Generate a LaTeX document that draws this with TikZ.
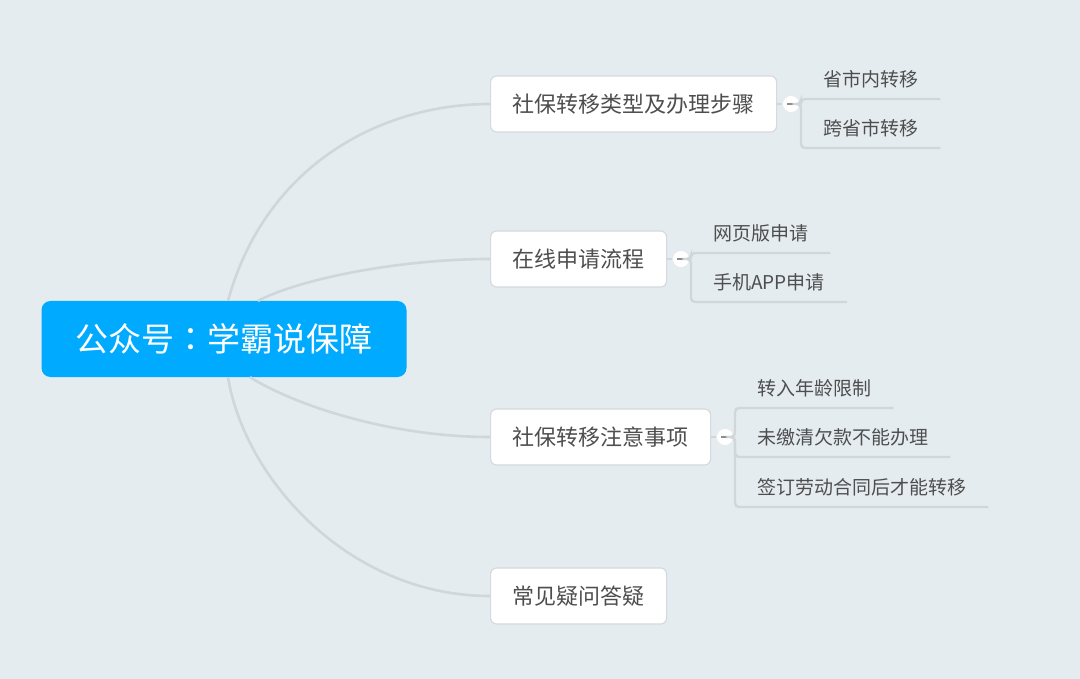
\documentclass[tikz,border=0pt]{standalone}
\usepackage{fontspec}
\setmainfont{Noto Sans CJK SC}
\newfontfamily\tcfont{Noto Sans CJK TC}
\usetikzlibrary{positioning}
\definecolor{bgcol}{RGB}{229,236,240}
\definecolor{rootblue}{RGB}{0,170,255}
\definecolor{boxline}{RGB}{212,218,222}
\definecolor{linegray}{RGB}{208,214,218}
\definecolor{textgray}{RGB}{78,78,78}
\definecolor{dashgray}{RGB}{140,140,140}

\begin{document}
\begin{tikzpicture}[
  x=1pt, y=-1pt,
  node distance=5pt,
  root/.style={fill=rootblue, rounded corners=9pt, text=white,
               font=\fontsize{33}{40}\selectfont, inner xsep=34pt,
               minimum height=76pt},
  topic/.style={draw=boxline, line width=1.2pt, fill=white, rounded corners=6pt,
                text=textgray, font=\fontsize{22}{26}\selectfont,
                inner xsep=22pt, minimum height=56pt, anchor=west},
  fold/.style={circle, fill=white, draw=boxline!60, line width=0.6pt,
               minimum size=17pt, inner sep=0pt,
               path picture={\draw[dashgray, line width=2.6pt]
                 ([xshift=-3.8pt]path picture bounding box.center) --
                 ([xshift=3.8pt]path picture bounding box.center);}},
  leaf/.style={anchor=south west, text=textgray, font=\fontsize{19}{23}\selectfont,
               inner xsep=22pt, inner ysep=0pt, text height=14pt, text depth=12pt},
  link/.style={draw=linegray, line width=2.6pt},
  stem/.style={draw=linegray, line width=2.4pt, rounded corners=4pt}
]
\path[use as bounding box, fill=bgcol] (0,0) rectangle (1080,679);

\node[root] (root) at (224,339) {公众号{\tcfont ：}学霸说保障};

\node[topic] (t1) at (490,104) {社保转移类型及办理步骤};
\node[topic] (t2) at (490,259) {在线申请流程};
\node[topic] (t3) at (490,437) {社保转移注意事项};
\node[topic] (t4) at (490,596) {常见疑问答疑};

\node[fold, right=of t1] (f1) {};
\node[fold, right=of t2] (f2) {};
\node[fold, right=of t3] (f3) {};

\node[leaf] (l11) at (801,99) {省市内转移};
\node[leaf] (l12) at (801,148) {跨省市转移};
\node[leaf] (l21) at (691,253) {网页版申请};
\node[leaf] (l22) at (691,302) {手机APP申请};
\node[leaf] (l31) at (735,408) {转入年龄限制};
\node[leaf] (l32) at (735,457) {未缴清欠款不能办理};
\node[leaf] (l33) at (735,507) {签订劳动合同后才能转移};

\draw[link] ([xshift=4pt]root.north) .. controls +(37,-135) and +(-110,0) .. (t1.west);
\draw[link] ([xshift=34pt]root.north) .. controls +(42,-22) and +(-90,0) .. (t2.west);
\draw[link] ([xshift=26pt]root.south) .. controls +(45,28) and +(-100,0) .. (t3.west);
\draw[link] ([xshift=4pt]root.south) .. controls +(17,103) and +(-140,0) .. (t4.west);

\draw[link] (t1) -- (f1);
\draw[link] (t2) -- (f2);
\draw[link] (t3) -- (f3);

\foreach \f/\l in {f1/l11, f1/l12, f2/l21, f2/l22, f3/l31, f3/l32, f3/l33}
  \draw[stem] (\f.east) -| (\l.south west) -- (\l.south east);
\end{tikzpicture}
\end{document}
